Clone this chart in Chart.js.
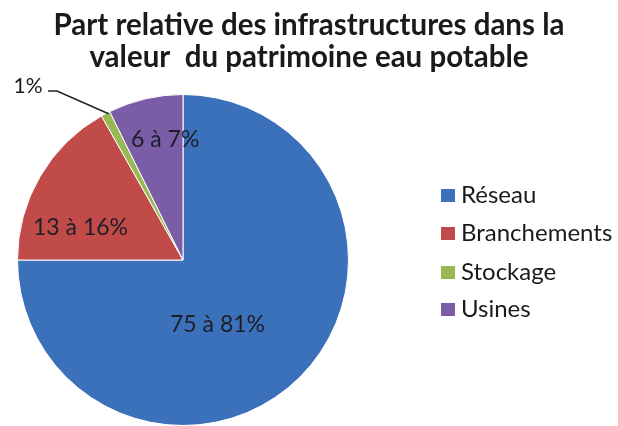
<!DOCTYPE html>
<html>
<head>
<meta charset="utf-8">
<script src="https://cdn.jsdelivr.net/npm/chart.js@4"></script>
<style>
  body { margin: 0; background: #fff; }
</style>
</head>
<body>
<canvas id="pieChart" width="618" height="426"></canvas>
<script>
const categories = ['Réseau', 'Branchements', 'Stockage', 'Usines'];
const parts = [75, 16.8, 0.9, 7.3];
const partLabels = ['75 à 81%', '13 à 16%', '1%', '6 à 7%'];
const titleLines = ['Part relative des infrastructures dans la', 'valeur  du patrimoine eau potable'];

const colors = ['#3b71ba', '#c04b49', '#98b954', '#7a5da6'];
const FONT = 'Lato, "Open Sans", sans-serif';

// décalages des étiquettes par rapport au centre de la part
const nudges = [[-24, 6], [-31, 9], [0, 0], [1, -40]];

const drawExtras = {
    id: 'drawExtras',
    afterDraw(chart) {
        const ctx = chart.ctx;
        ctx.save();
        // titre
        ctx.fillStyle = '#1a1a1a';
        ctx.font = 'bold 29.5px ' + FONT;
        ctx.textAlign = 'center';
        ctx.textBaseline = 'middle';
        ctx.fillText(titleLines[0], 309, 25);
        ctx.fillText(titleLines[1], 309, 57);

        // étiquettes
        const meta = chart.getDatasetMeta(0);
        meta.data.forEach((arc, i) => {
            if (i === 2) {
                const mid = (arc.startAngle + arc.endAngle) / 2;
                const x0 = arc.x + arc.outerRadius * Math.cos(mid);
                const y0 = arc.y + arc.outerRadius * Math.sin(mid);
                ctx.strokeStyle = '#222';
                ctx.lineWidth = 1.5;
                ctx.beginPath();
                ctx.moveTo(x0 + 3, y0);
                ctx.lineTo(57, 91);
                ctx.lineTo(48, 91);
                ctx.stroke();
                ctx.textAlign = 'center';
                ctx.fillStyle = '#1a1a1a';
                ctx.font = '21px ' + FONT;
                ctx.fillText(partLabels[i], 28, 86);
                return;
            }
            const p = arc.tooltipPosition();
            ctx.fillStyle = '#1e1e2a';
            ctx.textAlign = 'center';
            ctx.font = '23px ' + FONT;
            ctx.fillText(partLabels[i], p.x + nudges[i][0], p.y + nudges[i][1]);
        });

        // légende
        ctx.textAlign = 'left';
        ctx.font = '24px ' + FONT;
        const rowsY = [195, 233, 272, 309];
        categories.forEach((c, i) => {
            ctx.fillStyle = colors[i];
            ctx.fillRect(441, rowsY[i] - 6, 14, 13);
            ctx.fillStyle = '#1a1a1a';
            ctx.fillText(c, 461, rowsY[i]);
        });
        ctx.restore();
    }
};

new Chart(document.getElementById('pieChart'), {
    type: 'pie',
    data: {
        labels: categories,
        datasets: [{
            data: parts,
            backgroundColor: colors,
            borderColor: '#ffffff',
            borderWidth: 1
        }]
    },
    options: {
        responsive: false,
        animation: false,
        layout: {
            padding: { left: 17, right: 269, top: 94, bottom: 0 }
        },
        plugins: {
            legend: { display: false },
            title: { display: false },
            tooltip: { enabled: false }
        }
    },
    plugins: [drawExtras]
});
</script>
</body>
</html>
